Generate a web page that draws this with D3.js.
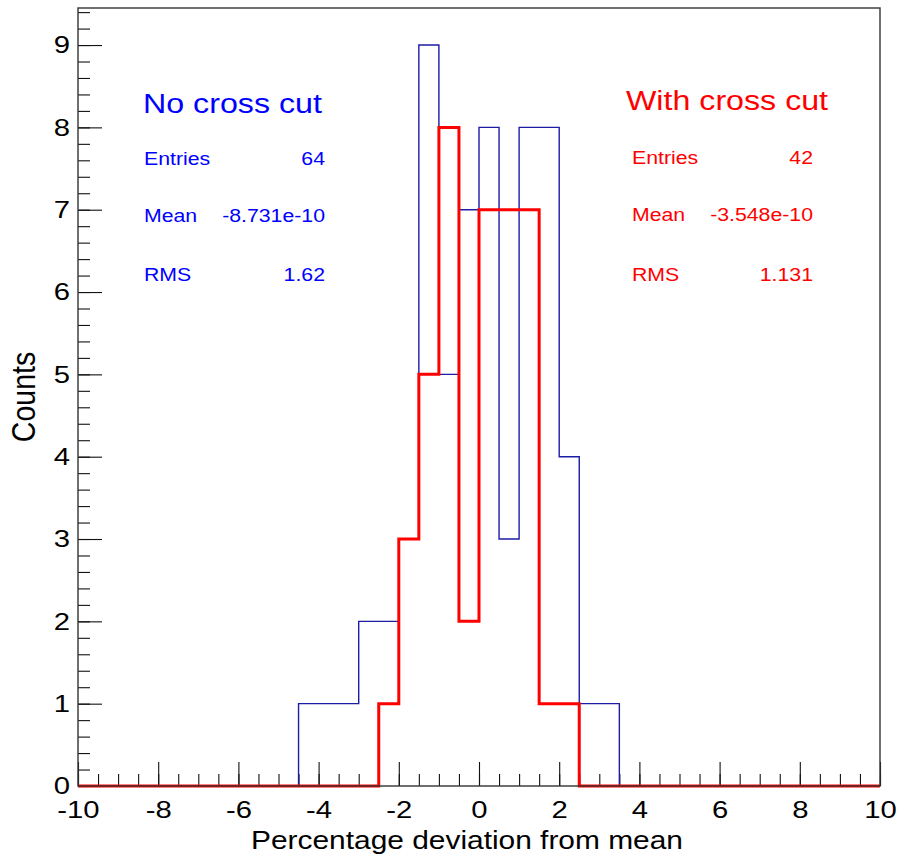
<!DOCTYPE html>
<html>
<head>
<meta charset="utf-8">
<script src="https://cdn.jsdelivr.net/npm/d3@7"></script>
<style>
  body { margin: 0; background: #fff; }
  svg { display: block; font-family: "Liberation Sans", Arial, sans-serif; }
</style>
</head>
<body>
<svg id="chart"></svg>
<script>
//Histogram data, 0.5 wide bins (only the non-empty part, the rest is 0)
var binEdges = [-4.5, -4, -3.5, -3, -2.5, -2, -1.5, -1, -0.5, 0, 0.5, 1, 1.5, 2, 2.5, 3, 3.5];
var noCutCounts = [1, 1, 1, 2, 2, 3, 9, 5, 7, 8, 3, 8, 8, 4, 1, 1];
var crossCutCounts = [0, 0, 0, 0, 1, 3, 5, 8, 2, 7, 7, 7, 1, 1, 0, 0];

//Stat boxes
var statLabels = ["Entries", "Mean", "RMS"];
var noCutStats = ["64", "-8.731e-10", "1.62"];
var crossCutStats = ["42", "-3.548e-10", "1.131"];
var noCutTitle = "No cross cut";
var crossCutTitle = "With cross cut";

//Axes
var xRange = [-10, 10];
var yRange = [0, 9.45];
var xTicks = [-10, -8, -6, -4, -2, 0, 2, 4, 6, 8, 10];
var yTicks = [0, 1, 2, 3, 4, 5, 6, 7, 8, 9];
var xTitle = "Percentage deviation from mean";
var yTitle = "Counts";

var width = 901, height = 863;
var margin = {left: 78, top: 8, right: 21, bottom: 77};
var plotW = width - margin.left - margin.right;
var plotH = height - margin.top - margin.bottom;
var stretch = 1.15; //text in the picture is a bit wider than normal

var svg = d3.select("#chart")
    .attr("width", width)
    .attr("height", height);

var x = d3.scaleLinear().domain(xRange).range([margin.left, margin.left + plotW]);
var y = d3.scaleLinear().domain(yRange).range([margin.top + plotH, margin.top]);

//plain hyphen for negatives, like the original
var tickFmt = function(d){ return String(d); };

//Minor ticks first, then major ones on top
var xMinor = d3.range(xRange[0], xRange[1] + 0.001, 0.5);
var yMinor = d3.range(yRange[0], yRange[1], 0.2);

svg.append("g")
    .attr("transform", "translate(0," + (margin.top + plotH) + ")")
    .call(d3.axisBottom(x).tickValues(xMinor).tickSizeInner(-12).tickSizeOuter(0).tickFormat(""))
    .call(function(g){ g.select(".domain").remove(); });

svg.append("g")
    .attr("transform", "translate(" + margin.left + ",0)")
    .call(d3.axisLeft(y).tickValues(yMinor).tickSizeInner(-12).tickSizeOuter(0).tickFormat(""))
    .call(function(g){ g.select(".domain").remove(); });

var xAxis = svg.append("g")
    .attr("transform", "translate(0," + (margin.top + plotH) + ")")
    .call(d3.axisBottom(x).tickValues(xTicks).tickSizeInner(-24).tickSizeOuter(0).tickPadding(15).tickFormat(tickFmt));
xAxis.select(".domain").remove();
xAxis.selectAll("text")
    .attr("font-size", 24)
    .attr("font-family", "Liberation Sans, Arial, sans-serif")
    .attr("fill", "#000")
    .attr("transform", "scale(1.22,1)");

var yAxis = svg.append("g")
    .attr("transform", "translate(" + margin.left + ",0)")
    .call(d3.axisLeft(y).tickValues(yTicks).tickSizeInner(-24).tickSizeOuter(0).tickPadding(8).tickFormat(tickFmt));
yAxis.select(".domain").remove();
yAxis.selectAll("text")
    .attr("font-size", 24)
    .attr("font-family", "Liberation Sans, Arial, sans-serif")
    .attr("fill", "#000")
    .attr("x", -8 / 1.22)
    .attr("transform", "scale(1.22,1)");

svg.selectAll(".tick line").attr("stroke", "#111").attr("stroke-width", 1.1);

//Step outline for a histogram, running along zero out to the axis ends
function histPoints(counts){
    var pts = [[xRange[0], 0], [binEdges[0], 0]];
    for (var i = 0; i < counts.length; i++) {
        pts.push([binEdges[i], counts[i]]);
        pts.push([binEdges[i + 1], counts[i]]);
    }
    pts.push([binEdges[binEdges.length - 1], 0]);
    pts.push([xRange[1], 0]);
    return pts;
}

var line = d3.line()
    .x(function(d){ return x(d[0]); })
    .y(function(d){ return y(d[1]); });

svg.append("path")
    .attr("d", line(histPoints(noCutCounts)))
    .attr("fill", "none")
    .attr("stroke", "#1c1ca6")
    .attr("stroke-width", 1.4);

svg.append("path")
    .attr("d", line(histPoints(crossCutCounts)))
    .attr("fill", "none")
    .attr("stroke", "#ff0000")
    .attr("stroke-width", 3);

//Frame
svg.append("rect")
    .attr("x", margin.left)
    .attr("y", margin.top)
    .attr("width", plotW)
    .attr("height", plotH)
    .attr("fill", "none")
    .attr("stroke", "#333")
    .attr("stroke-width", 1.4);

//Helper for the stretched text
function addText(tx, ty, str, size, color, anchor){
    return svg.append("text")
        .attr("transform", "translate(" + tx + "," + ty + ") scale(" + stretch + ",1)")
        .attr("font-size", size)
        .attr("fill", color)
        .attr("text-anchor", anchor || "start")
        .text(str);
}

//Stat blocks
function statBlock(cfg){
    addText(cfg.x, cfg.titleY, cfg.title, 28, cfg.color);
    for (var i = 0; i < statLabels.length; i++) {
        addText(cfg.labelX, cfg.rowY[i], statLabels[i], 18.5, cfg.color);
        addText(cfg.valueX, cfg.rowY[i], cfg.values[i], 18.5, cfg.color, "end");
    }
}

statBlock({title: noCutTitle, values: noCutStats, color: "#0000ff",
    x: 143, titleY: 113, labelX: 144, rowY: [165, 222, 281], valueX: 325});
statBlock({title: crossCutTitle, values: crossCutStats, color: "#ff0000",
    x: 626, titleY: 110, labelX: 632, rowY: [164, 221, 281], valueX: 813});

//Axis titles
svg.append("text")
    .attr("transform", "translate(467,849) scale(" + stretch + ",1)")
    .attr("text-anchor", "middle")
    .attr("font-size", 26)
    .attr("fill", "#000")
    .text(xTitle);

svg.append("text")
    .attr("transform", "translate(35," + (margin.top + plotH / 2) + ") scale(" + stretch + ",1) rotate(-90)")
    .attr("text-anchor", "middle")
    .attr("font-size", 28.5)
    .attr("fill", "#000")
    .text(yTitle);
</script>
</body>
</html>
